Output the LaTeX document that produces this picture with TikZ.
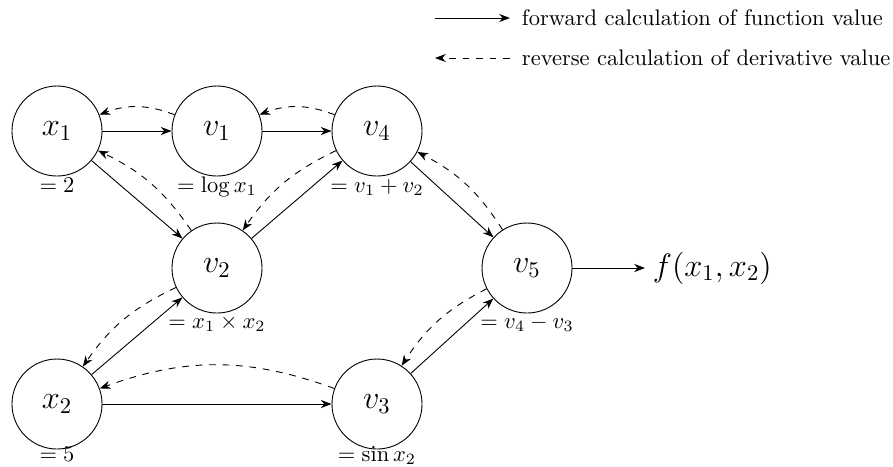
\documentclass[tikz,border=0pt]{standalone}
\usetikzlibrary{arrows.meta,calc}
\begin{document}
\begin{tikzpicture}[x=0.4444pt,y=-0.4444pt,
  var/.style={circle,draw,minimum size=40pt,inner sep=0pt,font=\Large},
  lab/.style={anchor=base,inner sep=0pt},
  fwd/.style={-{Stealth}},
  rev/.style={-{Stealth},dashed},
  legtext/.style={anchor=west}]
\useasboundingbox (0,0) rectangle (893,466);
% nodes
\node[var] (x1) at (57,131) {$x_1$};
\node[var] (v1) at (217,131) {$v_1$};
\node[var] (v4) at (377,131) {$v_4$};
\node[var] (v2) at (217,268) {$v_2$};
\node[var] (v5) at (527,268) {$v_5$};
\node[var] (x2) at (57,404) {$x_2$};
\node[var] (v3) at (377,404) {$v_3$};
\node[anchor=west,font=\Large] (f) at (645,268) {$f(x_1,x_2)$};
% value labels
\node[lab] (lx1) at ($(x1.south)+(0,16)$) {$=2$};
\node[lab] (lv1) at ($(v1.south)+(0,16)$) {$=\log x_1$};
\node[lab] (lv4) at ($(v4.south)+(0,16)$) {$=v_1+v_2$};
\node[lab] (lv2) at ($(v2.south)+(0,15)$) {$=x_1\times x_2$};
\node[lab] (lv5) at ($(v5.south)+(0,15)$) {$=v_4-v_3$};
\node[lab] (lx2) at ($(x2.south)+(0,12)$) {$=5$};
\node[lab] (lv3) at ($(v3.south)+(0,12)$) {$=\sin x_2$};
% forward
\draw[fwd] (x1) -- (v1);
\draw[fwd] (v1) -- (v4);
\draw[fwd] (x1) -- (v2);
\draw[fwd] (v2) -- (v4);
\draw[fwd] (v4) -- (v5);
\draw[fwd] (x2) -- (v2);
\draw[fwd] (x2) -- (v3);
\draw[fwd] (v3) -- (v5);
\draw[fwd] (v5) -- (f);
% reverse
\draw[rev] (v1) to[bend right=21] (x1);
\draw[rev] (v4) to[bend right=21] (v1);
\draw[rev] (v2) to[bend right=15] (x1);
\draw[rev] (v4) to[bend right=15] (v2);
\draw[rev] (v5) to[bend right=15] (v4);
\draw[rev] (v2) to[bend right=15] (x2);
\draw[rev] (v5) to[bend right=15] (v3);
\draw[rev] (v3) to[bend right=20] (x2);
% legend
\coordinate (lf) at (435,18);
\node[legtext] (tf) at (514,18) {forward calculation of function value};
\draw[fwd,shorten >=1.8pt] (lf) -- (tf.west);
\coordinate (lr) at (435,58);
\node[legtext] (tr) at (514,58) {reverse calculation of derivative value};
\draw[rev,shorten <=1.8pt] (tr.west) -- (lr);
\end{tikzpicture}
\end{document}
